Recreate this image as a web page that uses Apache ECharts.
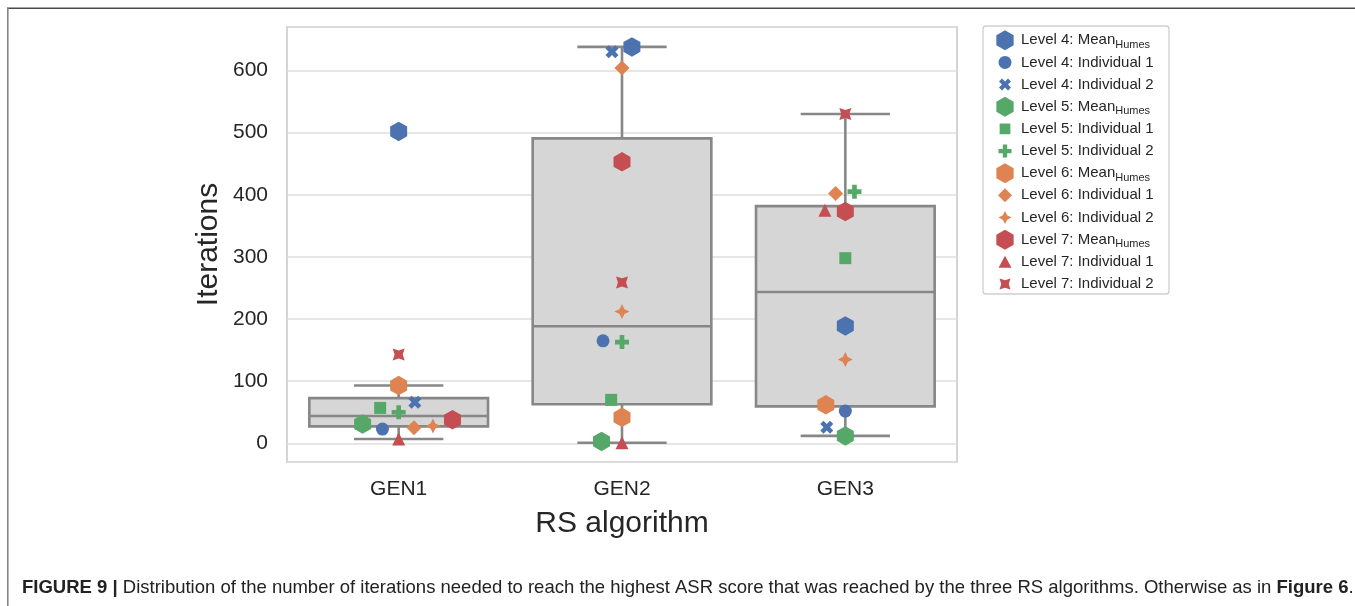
<!DOCTYPE html>
<html><head><meta charset="utf-8">
<script src="https://cdn.jsdelivr.net/npm/echarts@6/dist/echarts.min.js"></script>
<style>html,body{margin:0;padding:0;background:#fff}#c{width:1355px;height:606px}</style>
</head><body><div id="c"></div>
<script>
// ---------------- data ----------------
const categories = ['GEN1', 'GEN2', 'GEN3'];
const yTickLabels = [0, 100, 200, 300, 400, 500, 600];
const seriesNames = [
  'Level 4: Mean_Humes', 'Level 4: Individual 1', 'Level 4: Individual 2',
  'Level 5: Mean_Humes', 'Level 5: Individual 1', 'Level 5: Individual 2',
  'Level 6: Mean_Humes', 'Level 6: Individual 1', 'Level 6: Individual 2',
  'Level 7: Mean_Humes', 'Level 7: Individual 1', 'Level 7: Individual 2'
];
const level4Mean  = [502, 638, 189];
const level4Ind1  = [23, 165, 52];
const level4Ind2  = [66, 630, 26];
const level5Mean  = [31, 3, 12];
const level5Ind1  = [57, 70, 298];
const level5Ind2  = [50, 163, 405];
const level6Mean  = [93, 42, 62];
const level6Ind1  = [25, 604, 402];
const level6Ind2  = [28, 212, 135];
const level7Mean  = [38, 453, 373];
const level7Ind1  = [7, 1, 375];
const level7Ind2  = [143, 259, 530];
const seriesValues = [level4Mean, level4Ind1, level4Ind2, level5Mean, level5Ind1, level5Ind2,
                      level6Mean, level6Ind1, level6Ind2, level7Mean, level7Ind1, level7Ind2];

// ---------------- styles ----------------
const BLUE = '#4C72B0', GREEN = '#55A868', ORANGE = '#DD8452', RED = '#C44E52';
function polyPath(pts) { return 'path://' + pts.map((p, i) => (i ? 'L' : 'M') + p[0].toFixed(2) + ',' + p[1].toFixed(2)).join('') + 'Z'; }
function rot(pts, deg) { const a = deg * Math.PI / 180, c = Math.cos(a), s = Math.sin(a); return pts.map(p => [p[0]*c - p[1]*s, p[0]*s + p[1]*c]); }
const plusPts = [[-1,-3],[1,-3],[1,-1],[3,-1],[3,1],[1,1],[1,3],[-1,3],[-1,1],[-3,1],[-3,-1],[-1,-1]].map(p => [p[0]*33, p[1]*33]);
const HEX = 'path://M0,-100L86.6,-50L86.6,50L0,100L-86.6,50L-86.6,-50Z';
const PLUS = polyPath(plusPts);
const XMARK = polyPath(rot(plusPts, 45));
const STAR4 = 'path://M0,-100L33,-33L100,0L33,33L0,100L-33,33L-100,0L-33,-33Z';
const STAR4X = 'path://M-70.7,-70.7L0,-48L70.7,-70.7L48,0L70.7,70.7L0,48L-70.7,70.7L-48,0Z';

const styles = [
  {color: BLUE,   symbol: HEX,       size: [17, 19.5], icon: [17.3, 20], r: 11},
  {color: BLUE,   symbol: 'circle',  size: 13,         icon: [13, 13],   r: 9.5},
  {color: BLUE,   symbol: XMARK,     size: 13,         icon: [12, 12],   r: 9.5},
  {color: GREEN,  symbol: HEX,       size: [17, 19.5], icon: [17.3, 20], r: 11},
  {color: GREEN,  symbol: 'rect',    size: 12,         icon: [10.7, 10.7], r: 9.5},
  {color: GREEN,  symbol: PLUS,      size: 14,         icon: [13, 13],   r: 9.5},
  {color: ORANGE, symbol: HEX,       size: [17, 19.5], icon: [17.3, 20], r: 11},
  {color: ORANGE, symbol: 'diamond', size: 15,         icon: [14, 14],   r: 9.5},
  {color: ORANGE, symbol: STAR4,     size: 15,         icon: [13, 13],   r: 9.5},
  {color: RED,    symbol: HEX,       size: [17, 19.5], icon: [17.3, 20], r: 11},
  {color: RED,    symbol: 'triangle',size: 13,         icon: [13, 12],   r: 9.5},
  {color: RED,    symbol: STAR4X,    size: 12,         icon: [11, 11],   r: 9.5}
];

// ---------------- layout ----------------
const W = 1355, H = 606;
const G = {left: 287, right: 398, top: 27, bottom: 144};
const Y_MIN = -30, Y_MAX = 670;
const gridW = W - G.left - G.right, gridH = H - G.top - G.bottom;
const pxPerY = gridH / (Y_MAX - Y_MIN);
const xUnitPerPx = categories.length / gridW;

// box statistics (linear quantiles, 1.5 IQR whiskers)
function quantile(sorted, q) {
  const pos = (sorted.length - 1) * q, lo = Math.floor(pos), hi = Math.ceil(pos);
  return sorted[lo] + (sorted[hi] - sorted[lo]) * (pos - lo);
}
function boxStats(vals) {
  const s = vals.slice().sort((a, b) => a - b);
  const q1 = quantile(s, 0.25), med = quantile(s, 0.5), q3 = quantile(s, 0.75);
  const iqr = q3 - q1;
  const lo = Math.min(...s.filter(v => v >= q1 - 1.5 * iqr));
  const hi = Math.max(...s.filter(v => v <= q3 + 1.5 * iqr));
  return [lo, q1, med, q3, hi];
}
const boxData = categories.map((c, ci) => [ci].concat(boxStats(seriesValues.map(v => v[ci]))));

// beeswarm offsets (pixel space)
const offsets = seriesValues.map(() => categories.map(() => 0));
categories.forEach((c, ci) => {
  const pts = seriesValues.map((v, si) => ({si, y: v[ci] * pxPerY, r: styles[si].r, x: 0}));
  const order = pts.slice().sort((a, b) => a.y - b.y);
  const placed = [];
  order.forEach(p => {
    const cands = [0];
    placed.forEach(q => {
      const dy = Math.abs(p.y - q.y), dd = p.r + q.r;
      if (dy < dd) { const dx = Math.sqrt(dd * dd - dy * dy); cands.push(q.x - dx, q.x + dx); }
    });
    cands.sort((a, b) => Math.abs(a) - Math.abs(b) || a - b);
    for (const cx of cands) {
      const ok = placed.every(q => { const dx = cx - q.x, dy = p.y - q.y, dd = p.r + q.r; return dx * dx + dy * dy >= dd * dd - 1e-6; });
      if (ok) { p.x = cx; break; }
    }
    placed.push(p);
  });
  pts.forEach(p => { offsets[p.si][ci] = p.x * xUnitPerPx; });
});

// ---------------- chart ----------------
const chart = echarts.init(document.getElementById('c'), null, {renderer: 'canvas'});
const FONT = 'Liberation Sans, Arial, Helvetica, sans-serif';
const TXT = '#262626';
const EDGE = '#878787';

const scatterSeries = seriesNames.map((name, si) => ({
  name, type: 'scatter', xAxisIndex: 1, yAxisIndex: 0,
  symbol: styles[si].symbol, symbolSize: styles[si].size,
  itemStyle: {color: styles[si].color, opacity: 1},
  emphasis: {disabled: true},
  z: 3,
  data: seriesValues[si].map((v, ci) => [ci + offsets[si][ci], v])
}));

const boxSeries = {
  type: 'custom', xAxisIndex: 0, yAxisIndex: 0, z: 2, silent: true,
  data: boxData,
  renderItem(params, api) {
    const i = api.value(0);
    const lo = api.value(1), q1 = api.value(2), med = api.value(3), q3 = api.value(4), hi = api.value(5);
    const band = api.size([1, 0])[0];
    const cx = api.coord([i, med])[0];
    const y = v => api.coord([i, v])[1];
    const hw = band * 0.4, cw = band * 0.2;
    const st = {stroke: EDGE, lineWidth: 2.6, fill: null};
    return {type: 'group', children: [
      {type: 'line', shape: {x1: cx, y1: y(q3), x2: cx, y2: y(hi)}, style: st},
      {type: 'line', shape: {x1: cx, y1: y(q1), x2: cx, y2: y(lo)}, style: st},
      {type: 'line', shape: {x1: cx - cw, y1: y(hi), x2: cx + cw, y2: y(hi)}, style: st},
      {type: 'line', shape: {x1: cx - cw, y1: y(lo), x2: cx + cw, y2: y(lo)}, style: st},
      {type: 'rect', shape: {x: cx - hw, y: y(q3), width: 2 * hw, height: y(q1) - y(q3)},
        style: {fill: '#d6d6d6', stroke: EDGE, lineWidth: 2.6}},
      {type: 'line', shape: {x1: cx - hw, y1: y(med), x2: cx + hw, y2: y(med)}, style: st}
    ]};
  }
};

const LEG_Y0 = 40.3, LEG_DY = 22.15, ICON_CX = 1005, TEXT_X = 1021;
const legends = seriesNames.map((name, si) => {
  const iw = styles[si].icon[0], ih = styles[si].icon[1];
  return {
    data: [name], orient: 'horizontal',
    left: ICON_CX - iw / 2, top: LEG_Y0 + si * LEG_DY - 10,
    itemWidth: iw, itemHeight: ih, itemGap: 0, padding: 0,
    selectedMode: false, z: 5,
    formatter: n => n.replace('_Humes', '{sub|Humes}'),
    textStyle: {fontSize: 15, color: TXT, fontFamily: FONT, lineHeight: 20,
      padding: [0, 0, 0, TEXT_X - (ICON_CX + iw / 2 + 5)],
      rich: {sub: {fontSize: 11, lineHeight: 13, verticalAlign: 'bottom', color: TXT, fontFamily: FONT}}}
  };
});

chart.setOption({
  animation: false,
  backgroundColor: '#fff',
  textStyle: {fontFamily: FONT},
  title: {
    left: 22, top: 578, padding: 0,
    text: '{b|FIGURE 9 |} Distribution of the number of iterations needed to reach the highest ASR score that was reached by the three RS algorithms. Otherwise as in {b|Figure 6}.',
    textStyle: {fontSize: 18.5, fontWeight: 'normal', color: '#222', fontFamily: FONT,
      rich: {b: {fontSize: 18.5, fontWeight: 'bold', color: '#222', fontFamily: FONT}}}
  },
  legend: legends,
  grid: {left: G.left, right: G.right, top: G.top, bottom: G.bottom, show: true,
    borderColor: '#d4d4d4', borderWidth: 2, backgroundColor: 'transparent', containLabel: false},
  xAxis: [
    {type: 'category', data: categories, boundaryGap: true,
      axisLine: {show: false}, axisTick: {show: false}, splitLine: {show: false},
      axisLabel: {fontSize: 21, color: TXT, margin: 17, fontFamily: FONT},
      name: 'RS algorithm', nameLocation: 'middle', nameGap: 47,
      nameTextStyle: {fontSize: 30, color: TXT, fontFamily: FONT}},
    {type: 'value', min: -0.5, max: categories.length - 0.5, show: false}
  ],
  yAxis: {
    type: 'value', min: Y_MIN, max: Y_MAX, splitNumber: 7,
    axisLine: {show: false}, axisTick: {show: false},
    splitLine: {show: true, lineStyle: {color: '#dedede', width: 1.6}},
    axisLabel: {fontSize: 21, color: TXT, margin: 19, fontFamily: FONT,
      showMinLabel: false, showMaxLabel: false,
      formatter: v => (yTickLabels.indexOf(v) >= 0 ? String(v) : '')},
    name: 'Iterations', nameLocation: 'middle', nameGap: 63,
    nameTextStyle: {fontSize: 30, color: TXT, fontFamily: FONT}
  },
  graphic: [
    {type: 'line', z: -10, shape: {x1: 7, y1: 8.2, x2: W, y2: 8.2}, style: {stroke: '#4a4a4a', lineWidth: 1.6}},
    {type: 'line', z: -10, shape: {x1: 7.8, y1: 7.5, x2: 7.8, y2: H}, style: {stroke: '#858585', lineWidth: 1.6}},
    {type: 'rect', z: 0, shape: {x: 983, y: 26, width: 186, height: 268, r: 3},
      style: {fill: '#fff', stroke: '#cfcfcf', lineWidth: 1.3}}
  ],
  series: [boxSeries].concat(scatterSeries)
});
</script></body></html>
